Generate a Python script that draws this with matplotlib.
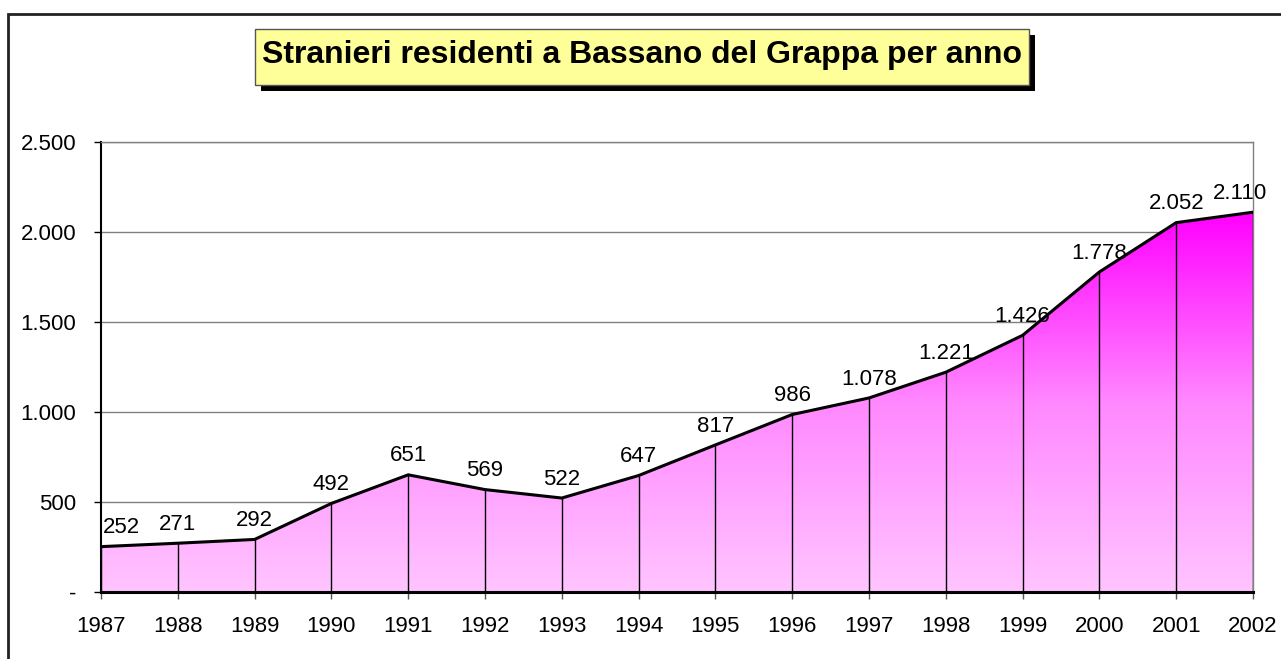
import matplotlib
matplotlib.use("Agg")
import matplotlib.pyplot as plt
import numpy as np
from matplotlib.patches import Rectangle, Polygon
from matplotlib.colors import LinearSegmentedColormap
from matplotlib.ticker import FuncFormatter

years = [1987, 1988, 1989, 1990, 1991, 1992, 1993, 1994, 1995, 1996,
         1997, 1998, 1999, 2000, 2001, 2002]
residents = [252, 271, 292, 492, 651, 569, 522, 647, 817, 986,
             1078, 1221, 1426, 1778, 2052, 2110]
title = "Stranieri residenti a Bassano del Grappa per anno"

plt.rcParams['font.family'] = ['Liberation Sans', 'DejaVu Sans']

W, H = 1281, 659
fig = plt.figure(figsize=(W / 100, H / 100), dpi=100)

def fx(px):
    return px / W

def fy(py):
    return 1 - py / H

# outer border
fig.add_artist(Rectangle((fx(8), fy(670)), fx(1290) - fx(8), fy(14) - fy(670),
                         transform=fig.transFigure, fill=False,
                         ec='#222222', lw=2))

# title box with shadow
bx0, bx1, by0, by1 = 255, 1029, 29, 85
sh = 6
fig.add_artist(Rectangle((fx(bx0 + sh), fy(by1 + sh)), fx(bx1) - fx(bx0), fy(by0) - fy(by1),
                         transform=fig.transFigure, fc='black', ec='black', lw=0))
fig.add_artist(Rectangle((fx(bx0), fy(by1)), fx(bx1) - fx(bx0), fy(by0) - fy(by1),
                         transform=fig.transFigure, fc='#FFFF99', ec='#555555', lw=1))
fig.text(fx((bx0 + bx1) / 2), fy(63.5), title, ha='center', va='baseline',
         fontsize=23, fontweight='bold', color='black')

ax = fig.add_axes([fx(101), fy(592), fx(1253) - fx(101), fy(142) - fy(592)])
ax.set_xlim(years[0], years[-1])
ax.set_ylim(0, 2500)

x = np.array(years, dtype=float)
y = np.array(residents, dtype=float)

# gradient fill clipped to area
cmap = LinearSegmentedColormap.from_list('pk', ['#FFC4FF', '#FF88FF', '#FF00FF'])
ymax = y.max()
grad = np.linspace(0, 1, 256).reshape(-1, 1)
im = ax.imshow(grad, extent=[x[0], x[-1], 0, ymax], origin='lower', aspect='auto',
               cmap=cmap, zorder=2)
verts = [(x[0], 0)] + list(zip(x, y)) + [(x[-1], 0)]
poly = Polygon(verts, closed=True, fc='none', ec='none', zorder=2)
ax.add_patch(poly)
im.set_clip_path(poly)

# drop lines
ax.vlines(x, 0, y, colors='black', lw=1, zorder=3)
ax.plot(x, y, color='black', lw=2.2, zorder=4, solid_joinstyle='miter')

# labels
for i, (xi, yi) in enumerate(zip(x, y)):
    lab = f'{int(yi):,}'.replace(',', '.')
    dx = 0
    if i == 0:
        dx = 15
    elif i == len(x) - 1:
        dx = -9
    ax.annotate(lab, (xi, yi), xytext=(dx, 6), textcoords='offset points',
                ha='center', va='bottom', fontsize=16, color='black', zorder=5,
                annotation_clip=False)

ax.set_xticks(years)
ax.set_xticklabels([str(v) for v in years])
ax.set_yticks([0, 500, 1000, 1500, 2000, 2500])
ax.yaxis.set_major_formatter(FuncFormatter(
    lambda v, p: '-' if v == 0 else f'{int(v):,}'.replace(',', '.')))
ax.tick_params(axis='y', length=5, width=1, color='black', pad=13, labelsize=16)
ax.tick_params(axis='x', length=5, width=1, color='#555555', pad=12, labelsize=16)

ax.yaxis.grid(True, color='#808080', lw=1, zorder=1)
ax.set_axisbelow(True)
for s in ['top', 'right']:
    ax.spines[s].set_color('#808080')
    ax.spines[s].set_linewidth(1)
ax.spines['left'].set_color('black')
ax.spines['left'].set_linewidth(1.5)
ax.spines['bottom'].set_color('black')
ax.spines['bottom'].set_linewidth(2.2)
ax.spines['bottom'].set_zorder(6)

fig.savefig('out.png', dpi=100)
